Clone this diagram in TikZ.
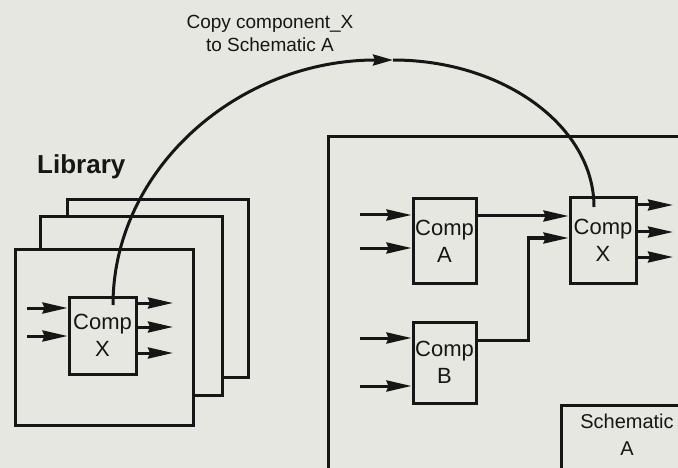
\documentclass[tikz,border=0pt]{standalone}
\usepackage{fontspec}
\setmainfont{Liberation Sans}
\usetikzlibrary{arrows.meta}
\definecolor{bg}{RGB}{231,231,225}
\definecolor{ink}{RGB}{22,22,22}
\begin{document}
\begin{tikzpicture}[x=1pt,y=-1pt,
  box/.style={draw=ink, line width=3pt, fill=bg, inner sep=0pt},
  comp/.style={box, align=center, font=\fontsize{22}{27}\selectfont, text=ink},
  wire/.style={draw=ink, line width=3pt},
  arr/.style={wire, -{Stealth[length=25pt,width=11pt,inset=2pt]}},
  lbl/.style={text=ink, align=center, inner sep=0pt},
]
\useasboundingbox (0,0) rectangle (678,468);
\fill[bg] (0,0) rectangle (678,468);
\begin{scope}
\clip (0,0) rectangle (678,468);
% title
\node[lbl, font=\fontsize{19}{23}\selectfont] (title) at (270,33) {Copy component\_X\\to Schematic A};
% library
\node[lbl, font=\fontsize{26}{28}\selectfont\bfseries, anchor=base west] (libl) at (37,174) {Library};
\node[box, minimum width=181pt, minimum height=177pt] (lib3) at (157.5,288.5) {};
\node[box, minimum width=182pt, minimum height=178pt] (lib2) at (131,306) {};
\node[box, minimum width=178pt, minimum height=176pt] (lib1) at (104,337) {};
\node[comp, minimum width=67pt, minimum height=77pt] (lx) at (102.5,335.5) {Comp\\X};
% library wires
\coordinate (li1) at (27,308);
\coordinate (li2) at (27,336);
\draw[arr] (li1) -- (li1 -| lx.west);
\draw[arr] (li2) -- (li2 -| lx.west);
\coordinate (lo1) at (173,303);
\coordinate (lo2) at (173,327);
\coordinate (lo3) at (173,353);
\draw[arr] (lo1 -| lx.east) -- (lo1);
\draw[arr] (lo2 -| lx.east) -- (lo2);
\draw[arr] (lo3 -| lx.east) -- (lo3);
% schematic
\node[box, minimum width=372pt, minimum height=353pt] (sch) at (514,313.5) {};
\node[box, minimum width=63pt, minimum height=84pt, comp] (A) at (444.5,241) {Comp\\A};
\node[box, minimum width=63pt, minimum height=81pt, comp] (B) at (444.5,362.5) {Comp\\B};
\node[box, minimum width=66pt, minimum height=85pt, comp] (X) at (603,240.5) {Comp\\X};
\node[box, minimum width=139pt, minimum height=85pt] (schA) at (630.5,447.5) {};
\node[lbl, font=\fontsize{20}{27}\selectfont] (schAt) at (627,435) {Schematic\\A};
% schematic wires
\coordinate (ai1) at (360,215);
\coordinate (ai2) at (360,248);
\coordinate (bi1) at (360,338);
\coordinate (bi2) at (360,386);
\draw[arr] (ai1) -- (ai1 -| A.west);
\draw[arr] (ai2) -- (ai2 -| A.west);
\draw[arr] (bi1) -- (bi1 -| B.west);
\draw[arr] (bi2) -- (bi2 -| B.west);
\coordinate (aout) at ([yshift=25pt]A.east);
\draw[arr] (aout) -- (aout -| X.west);
\coordinate (bout) at ([yshift=22.5pt]B.east);
\coordinate (xin2) at ([yshift=2.5pt]X.west);
\coordinate (bend1) at (528,340);
\coordinate (bend2) at (528,238);
\draw[arr] (bout) -- (bend1) -- (bend2) -- (xin2);
\coordinate (xo1) at (673,205);
\coordinate (xo2) at (673,232);
\coordinate (xo3) at (673,257);
\draw[arr] (xo1 -| X.east) -- (xo1);
\draw[arr] (xo2 -| X.east) -- (xo2);
\draw[arr] (xo3 -| X.east) -- (xo3);
% copy curve
\coordinate (c0) at (113,305);
\coordinate (ctop) at (393,60);
\coordinate (c1) at (594,207);
\draw[wire, -{Stealth[length=20pt,width=11pt,inset=2pt]}] (c0) .. controls (113,170) and (237,60) .. (ctop);
\draw[wire] (ctop) .. controls (503,60) and (594,126) .. (c1);
\end{scope}
\end{tikzpicture}
\end{document}
